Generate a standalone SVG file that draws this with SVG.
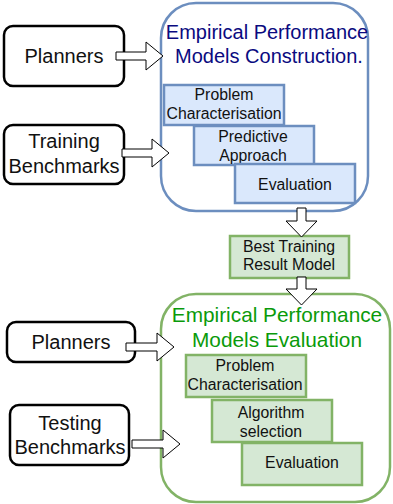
<svg xmlns="http://www.w3.org/2000/svg" width="393" height="504" viewBox="0 0 393 504">
<style>
text{font-family:"Liberation Sans",Arial,Helvetica,sans-serif;text-anchor:middle;fill:#111}
.big{font-size:20px}
.sm{font-size:15.8px}
.ext{fill:#fff;stroke:#000;stroke-width:2.5}
.blueC{fill:#fff;stroke:#6c8ebf;stroke-width:2.5}
.greenC{fill:#fff;stroke:#82b366;stroke-width:2.5}
.blue{fill:#dae8fc;stroke:#6c8ebf;stroke-width:2.5}
.green{fill:#d5e8d4;stroke:#82b366;stroke-width:2.5}
.arr{fill:#fff;stroke:#000;stroke-width:1}
.navy{fill:#0a0a80}
.gt{fill:#0a9a0a;font-size:20.8px}
</style>
<rect width="393" height="504" fill="#fff"/>
<g id="construction">
<rect class="blueC" x="161" y="3" width="207" height="208" rx="35"/>
<text class="big navy" x="267" y="39">Empirical Performance</text>
<text class="big navy" x="269" y="63">Models Construction.</text>
</g>
<g id="evaluationContainer">
<rect class="greenC" x="161" y="294" width="229" height="208" rx="35"/>
<text class="big gt" x="277" y="322">Empirical Performance</text>
<text class="big gt" x="277" y="347">Models Evaluation</text>
</g>
<g id="planners1">
<rect class="ext" x="4" y="26" width="120" height="60" rx="9"/>
<text class="big" x="64" y="63">Planners</text>
</g>
<g id="trainingBenchmarks">
<rect class="ext" x="4" y="125" width="120" height="59" rx="9"/>
<text class="big" x="64" y="148">Training</text>
<text class="big" x="64" y="173">Benchmarks</text>
</g>
<g id="planners2">
<rect class="ext" x="7" y="322" width="128" height="40" rx="9"/>
<text class="big" x="71" y="349">Planners</text>
</g>
<g id="testingBenchmarks">
<rect class="ext" x="10" y="405" width="119" height="60" rx="9"/>
<text class="big" x="70" y="430">Testing</text>
<text class="big" x="70" y="454">Benchmarks</text>
</g>
<g id="problemChar1">
<rect class="blue" x="164" y="85" width="120" height="40"/>
<text class="sm" x="224" y="100">Problem</text>
<text class="sm" x="224" y="119">Characterisation</text>
</g>
<g id="predictiveApproach">
<rect class="blue" x="194" y="126" width="120" height="39"/>
<text class="sm" x="253" y="142">Predictive</text>
<text class="sm" x="253" y="161">Approach</text>
</g>
<g id="evaluation1">
<rect class="blue" x="235" y="164" width="120" height="39"/>
<text class="sm" x="295" y="190">Evaluation</text>
</g>
<g id="bestModel">
<rect class="green" x="230" y="236" width="119" height="42"/>
<text class="sm" x="289" y="252">Best Training</text>
<text class="sm" x="289" y="270">Result Model</text>
</g>
<g id="problemChar2">
<rect class="green" x="186" y="355" width="120" height="42"/>
<text class="sm" x="245" y="371">Problem</text>
<text class="sm" x="245" y="390">Characterisation</text>
</g>
<g id="algorithmSelection">
<rect class="green" x="212" y="400" width="120" height="42"/>
<text class="sm" x="271" y="418">Algorithm</text>
<text class="sm" x="271" y="437">selection</text>
</g>
<g id="evaluation2">
<rect class="green" x="242" y="443" width="120" height="42"/>
<text class="sm" x="302" y="468">Evaluation</text>
</g>
<g id="connectors">
<polygon class="arr" points="116,52 146,52 146,42 163,56 146,70 146,60 116,60"/>
<polygon class="arr" points="122,149 152,149 152,139 169,153 152,167 152,157 122,157"/>
<polygon class="arr" points="126,343 157,343 157,333 174,347 157,361 157,351 126,351"/>
<polygon class="arr" points="132,440 163,440 163,430 180,444 163,458 163,448 132,448"/>
<polygon class="arr" points="297,208 306,208 306,221 317,221 301.5,237 286,221 297,221"/>
<polygon class="arr" points="297,277 306,277 306,289 317,289 301.5,305 286,289 297,289"/>
</g>
</svg>
